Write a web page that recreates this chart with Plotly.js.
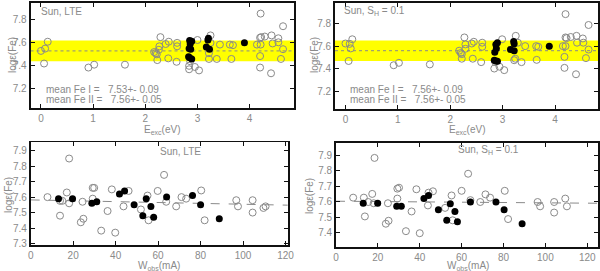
<!DOCTYPE html>
<html><head><meta charset="utf-8">
<script src="https://cdn.plot.ly/plotly-3.0.1.min.js"></script>
<style>html,body{margin:0;padding:0;background:#fff}#c{width:600px;height:271px}</style>
</head><body><div id="c"></div>
<script>
// ---- Top-left: Sun, LTE, abundance vs excitation potential ----
const tlFeI_x = [0.00,0.08,0.13,0.06,0.91,1.02,1.61,2.17,2.22,2.20,2.23,2.26,2.27,2.29,2.39,2.45,2.44,2.61,2.61,2.60,2.84,2.84,2.95,3.03,3.00,2.86,3.25,3.22,3.22,3.25,3.43,3.37,3.62,3.68,3.65,4.14,4.21,4.20,4.22,4.20,4.20,4.21,4.29,4.42,4.41,4.44,4.55,4.55,4.64,4.64,4.60];
const tlFeI_y = [7.53,7.55,7.61,7.42,7.385,7.41,7.41,7.52,7.50,7.51,7.45,7.54,7.57,7.65,7.59,7.61,7.465,7.60,7.57,7.435,7.40,7.37,7.39,7.36,7.625,7.44,7.665,7.51,7.46,7.60,7.585,7.46,7.585,7.58,7.46,7.585,7.585,7.645,7.65,7.485,7.385,7.855,7.655,7.665,7.335,7.595,7.64,7.605,7.745,7.545,7.46];
const tlFeII_x = [2.85,2.89,2.86,2.87,2.84,2.85,2.89,2.83,3.20,3.21,3.17,3.23,3.90];
const tlFeII_y = [7.62,7.615,7.59,7.545,7.55,7.47,7.46,7.48,7.625,7.64,7.565,7.545,7.60];
const tlMean = 7.53, tlSigma = 0.09;

// ---- Top-right: Sun, S_H = 0.1 ----
const trFeI_x = [0.00,0.08,0.13,0.10,0.06,0.92,1.02,1.61,2.17,2.22,2.20,2.22,2.27,2.29,2.29,2.41,2.45,2.43,2.61,2.61,2.59,2.84,2.94,3.03,2.99,2.86,3.25,3.24,3.22,3.29,3.43,3.36,3.64,3.68,3.65,4.15,4.20,4.20,4.22,4.18,4.18,4.20,4.30,4.41,4.40,4.42,4.53,4.54,4.64,4.64,4.59];
const trFeI_y = [7.623,7.62,7.66,7.58,7.47,7.433,7.454,7.44,7.56,7.53,7.54,7.49,7.676,7.615,7.577,7.623,7.638,7.49,7.63,7.594,7.46,7.404,7.42,7.39,7.66,7.46,7.69,7.49,7.477,7.63,7.60,7.46,7.60,7.594,7.48,7.60,7.60,7.676,7.67,7.506,7.41,7.88,7.68,7.69,7.354,7.63,7.667,7.63,7.785,7.57,7.495];
const trFeII_x = [2.87,2.90,2.85,2.88,2.84,2.87,2.90,3.21,3.22,3.15,3.22,3.89];
const trFeII_y = [7.615,7.63,7.547,7.58,7.477,7.47,7.468,7.64,7.62,7.57,7.56,7.60];
const trMean = 7.56, trSigma = 0.09;

// ---- Bottom-left: Sun, LTE, abundance vs equivalent width ----
const blFeI_x = [7.9,13.8,14.9,13.8,17.0,18.1,18.1,24.4,24.8,23.6,29.2,29.9,29.2,33.2,36.2,38.2,39.8,43.7,46.1,51.9,55.0,55.5,59.8,62.8,63.8,68.5,71.0,73.2,80.3,81.9,96.8,97.6,104.5,104.5,109.6,110.6];
const blFeI_y = [7.60,7.576,7.576,7.48,7.63,7.85,7.56,7.57,7.46,7.437,7.66,7.66,7.59,7.383,7.51,7.65,7.37,7.54,7.64,7.52,7.61,7.45,7.64,7.744,7.57,7.54,7.60,7.59,7.643,7.45,7.58,7.54,7.58,7.50,7.53,7.54];
const blFeII_x = [13.1,19.7,28.8,31.1,41.8,44.2,48.7,52.8,54.4,56.6,57.9,64.0,76.2,80.0,88.8];
const blFeII_y = [7.59,7.59,7.56,7.57,7.62,7.64,7.55,7.48,7.59,7.54,7.47,7.60,7.61,7.55,7.46];
const blFit_x = [0,121];
const blFit_y = [7.582,7.548];

// ---- Bottom-right: Sun, S_H = 0.1 ----
const brFeI_x = [8.2,13.3,13.8,15.4,17.3,18.4,18.0,24.8,23.8,25.1,29.3,30.1,29.3,33.4,36.1,38.4,40.0,43.9,44.2,46.3,52.1,55.2,55.7,60.0,63.1,64.2,68.9,71.4,73.6,80.6,82.2,96.3,97.5,104.2,104.2,109.5,110.3];
const brFeI_y = [7.626,7.626,7.505,7.598,7.65,7.882,7.59,7.59,7.458,7.477,7.684,7.69,7.62,7.41,7.537,7.68,7.397,7.576,7.658,7.667,7.56,7.64,7.48,7.67,7.78,7.61,7.598,7.647,7.626,7.67,7.488,7.598,7.57,7.598,7.53,7.62,7.57];
const brFeII_x = [13.0,19.9,29.0,31.2,42.0,44.2,48.9,52.9,54.6,56.8,58.0,64.2,76.4,80.3,88.9];
const brFeII_y = [7.59,7.59,7.57,7.57,7.62,7.64,7.548,7.48,7.587,7.537,7.47,7.598,7.598,7.548,7.458];
const brFit_x = [0,125];
const brFit_y = [7.603,7.59];

const grey = '#8a8a8a';
const FONT = 'Liberation Sans, Arial, sans-serif';
const openM = {symbol:'circle-open', size:7, color:grey, line:{width:1, color:grey}};
const fillM = {symbol:'circle', size:7, color:'#000'};

function pts(x,y,ax,ay,m){return {x:x,y:y,xaxis:ax,yaxis:ay,type:'scatter',mode:'markers',marker:m,hoverinfo:'skip',showlegend:false};}
function line(x,y,ax,ay,dash){return {x:x,y:y,xaxis:ax,yaxis:ay,type:'scatter',mode:'lines',line:{color:grey,width:1,dash:dash},hoverinfo:'skip',showlegend:false};}

const data = [
  pts(tlFeI_x,tlFeI_y,'x','y',openM), pts(tlFeII_x,tlFeII_y,'x','y',fillM),
  pts(trFeI_x,trFeI_y,'x2','y2',openM), pts(trFeII_x,trFeII_y,'x2','y2',fillM),
  line(blFit_x,blFit_y,'x3','y3','dash'),
  pts(blFeI_x,blFeI_y,'x3','y3',openM), pts(blFeII_x,blFeII_y,'x3','y3',fillM),
  line(brFit_x,brFit_y,'x4','y4','dash'),
  pts(brFeI_x,brFeI_y,'x4','y4',openM), pts(brFeII_x,brFeII_y,'x4','y4',fillM)
];

function ax(domain, range, dtick, tick0, anchor){
  return {domain:domain, range:range, dtick:dtick, tick0:tick0, anchor:anchor,
    showgrid:false, zeroline:false, showline:true, linecolor:'#111', linewidth:1.8, mirror:'ticks',
    ticks:'inside', ticklen:4, tickcolor:'#111', tickwidth:1,
    tickfont:{family:FONT, size:10, color:grey}, ticklabelstandoff:0};
}

function band(xr, yr, mean, sig){
  return [
    {type:'rect', xref:xr+' domain', yref:yr, x0:0, x1:1, y0:mean-sig, y1:mean+sig, fillcolor:'#ffff00', line:{width:0}, layer:'below'},
    {type:'line', xref:xr+' domain', yref:yr, x0:0, x1:1, y0:mean, y1:mean, line:{color:grey, width:1, dash:'dot'}, layer:'below'}
  ];
}

function txt(x,y,s,opts){return Object.assign({xref:'paper',yref:'paper',x:x,y:y,text:s,showarrow:false,font:{family:FONT,size:10,color:grey},xanchor:'left',yanchor:'middle'},opts||{});}
const W=600,H=271;
const px=v=>v/W, py=v=>1-v/H;

const layout = {
  width:600, height:271, margin:{l:0,r:0,t:0,b:0},
  paper_bgcolor:'#fff', plot_bgcolor:'#fff', showlegend:false,
  xaxis: ax([px(30.5),px(294)], [-0.2,4.85], 1, 0, 'y'),
  yaxis: ax([py(108.3),py(2.7)], [7.03,7.95], 0.2, 7.2, 'x'),
  xaxis2: ax([px(335),px(598)], [-0.2,4.82], 1, 0, 'y2'),
  yaxis2: ax([py(109),py(2.7)], [7.05,7.98], 0.2, 7.2, 'x2'),
  xaxis3: ax([px(30.7),px(288.3)], [0,121.3], 20, 0, 'y3'),
  yaxis3: ax([py(245),py(142.3)], [7.29,7.955], 0.1, 7.3, 'x3'),
  xaxis4: ax([px(336),px(597.7)], [0,125], 20, 0, 'y4'),
  yaxis4: ax([py(246.7),py(142.7)], [7.31,7.98], 0.1, 7.3, 'x4'),
  shapes: [].concat(band('x','y',tlMean,tlSigma), band('x2','y2',trMean,trSigma)),
  annotations: [
    txt(px(39),py(11),'Sun, LTE'),
    txt(px(44),py(89.5),'mean Fe I =   7.53+- 0.09'),
    txt(px(44),py(99.5),'mean Fe II =   7.56+- 0.05'),
    txt(px(342),py(11),'Sun, S<sub>H</sub> = 0.1'),
    txt(px(348),py(90),'mean Fe I =   7.56+- 0.09'),
    txt(px(348),py(99.5),'mean Fe II =   7.56+- 0.05'),
    txt(px(180),py(151),'Sun, LTE',{xanchor:'center'}),
    txt(px(488),py(150),'Sun, S<sub>H</sub> = 0.1',{xanchor:'center'}),
    txt(px(12),py(55),'logε(Fe)',{xanchor:'center',textangle:-90}),
    txt(px(314),py(55),'logε(Fe)',{xanchor:'center',textangle:-90}),
    txt(px(8),py(195),'logε(Fe)',{xanchor:'center',textangle:-90}),
    txt(px(309),py(196),'logε(Fe)',{xanchor:'center',textangle:-90}),
    txt(px(162),py(129.5),'E<sub>exc</sub>(eV)',{xanchor:'center'}),
    txt(px(467),py(129.5),'E<sub>exc</sub>(eV)',{xanchor:'center'}),
    txt(px(159),py(265.5),'W<sub>obs</sub>(mA)',{xanchor:'center'}),
    txt(px(468),py(265.5),'W<sub>obs</sub>(mA)',{xanchor:'center'})
  ]
};
Plotly.newPlot('c', data, layout, {staticPlot:true, displayModeBar:false});
</script></body></html>
